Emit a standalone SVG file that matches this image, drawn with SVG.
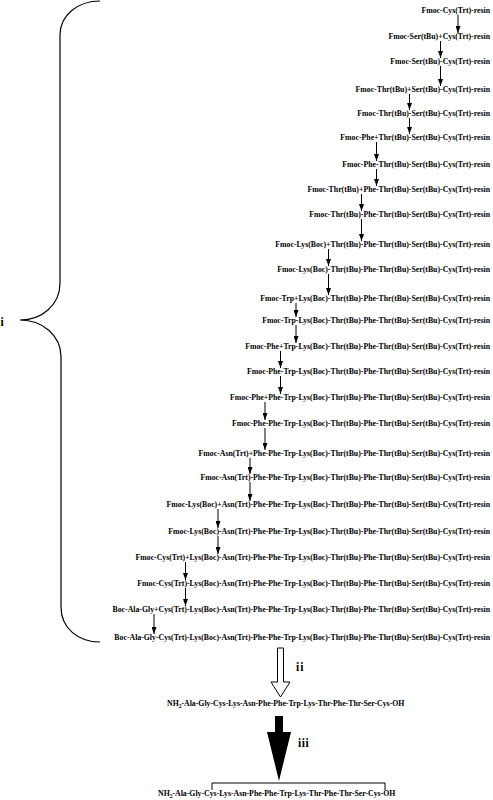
<svg xmlns="http://www.w3.org/2000/svg" width="493" height="800" viewBox="0 0 493 800">
<style>
.t{font-family:"Liberation Serif","Times New Roman",serif;font-weight:bold;font-size:7.8px;text-anchor:end;fill:#000}
.p{font-family:"Liberation Serif","Times New Roman",serif;font-weight:bold;font-size:7.8px;fill:#000}
.lb{font-family:"Liberation Serif","Times New Roman",serif;font-weight:bold;font-size:11.5px;fill:#000}
.a{stroke:#000;stroke-width:1;fill:none;marker-end:url(#ah)}
</style>
<defs>
<marker id="ah" markerUnits="userSpaceOnUse" markerWidth="7" markerHeight="5" viewBox="0 0 7 5" refX="7" refY="2.5" orient="auto">
<path d="M0,0 L7,2.5 L0,5 Z" fill="#000"/>
</marker>
</defs>
<g id="brace">
<path d="M100,1 C78,1 60,15 60,35 L60,283 C60,305 42,320 20,320 C42,320 61,335 61,357 L61,607 C61,628 78,642 100,642" fill="none" stroke="#000" stroke-width="1.2"/>
<text class="lb" x="0.5" y="326">i</text>
</g>
<g id="steps">
<text id="s1" class="t" x="490" y="13">Fmoc-Cys(Trt)-resin</text>
<text id="s2" class="t" x="490" y="39">Fmoc-Ser(tBu)+Cys(Trt)-resin</text>
<text id="s3" class="t" x="490" y="64">Fmoc-Ser(tBu)-Cys(Trt)-resin</text>
<text id="s4" class="t" x="490" y="92">Fmoc-Thr(tBu)+Ser(tBu)-Cys(Trt)-resin</text>
<text id="s5" class="t" x="490" y="116">Fmoc-Thr(tBu)-Ser(tBu)-Cys(Trt)-resin</text>
<text id="s6" class="t" x="490" y="140">Fmoc-Phe+Thr(tBu)-Ser(tBu)-Cys(Trt)-resin</text>
<text id="s7" class="t" x="490" y="167">Fmoc-Phe-Thr(tBu)-Ser(tBu)-Cys(Trt)-resin</text>
<text id="s8" class="t" x="490" y="192">Fmoc-Thr(tBu)+Phe-Thr(tBu)-Ser(tBu)-Cys(Trt)-resin</text>
<text id="s9" class="t" x="490" y="217">Fmoc-Thr(tBu)-Phe-Thr(tBu)-Ser(tBu)-Cys(Trt)-resin</text>
<text id="s10" class="t" x="490" y="247">Fmoc-Lys(Boc)+Thr(tBu)-Phe-Thr(tBu)-Ser(tBu)-Cys(Trt)-resin</text>
<text id="s11" class="t" x="490" y="272">Fmoc-Lys(Boc)-Thr(tBu)-Phe-Thr(tBu)-Ser(tBu)-Cys(Trt)-resin</text>
<text id="s12" class="t" x="490" y="301">Fmoc-Trp+Lys(Boc)-Thr(tBu)-Phe-Thr(tBu)-Ser(tBu)-Cys(Trt)-resin</text>
<text id="s13" class="t" x="490" y="323">Fmoc-Trp-Lys(Boc)-Thr(tBu)-Phe-Thr(tBu)-Ser(tBu)-Cys(Trt)-resin</text>
<text id="s14" class="t" x="490" y="349">Fmoc-Phe+Trp-Lys(Boc)-Thr(tBu)-Phe-Thr(tBu)-Ser(tBu)-Cys(Trt)-resin</text>
<text id="s15" class="t" x="490" y="374">Fmoc-Phe-Trp-Lys(Boc)-Thr(tBu)-Phe-Thr(tBu)-Ser(tBu)-Cys(Trt)-resin</text>
<text id="s16" class="t" x="490" y="400">Fmoc-Phe+Phe-Trp-Lys(Boc)-Thr(tBu)-Phe-Thr(tBu)-Ser(tBu)-Cys(Trt)-resin</text>
<text id="s17" class="t" x="490" y="426">Fmoc-Phe-Phe-Trp-Lys(Boc)-Thr(tBu)-Phe-Thr(tBu)-Ser(tBu)-Cys(Trt)-resin</text>
<text id="s18" class="t" x="490" y="456">Fmoc-Asn(Trt)+Phe-Phe-Trp-Lys(Boc)-Thr(tBu)-Phe-Thr(tBu)-Ser(tBu)-Cys(Trt)-resin</text>
<text id="s19" class="t" x="490" y="480">Fmoc-Asn(Trt)-Phe-Phe-Trp-Lys(Boc)-Thr(tBu)-Phe-Thr(tBu)-Ser(tBu)-Cys(Trt)-resin</text>
<text id="s20" class="t" x="490" y="507">Fmoc-Lys(Boc)+Asn(Trt)-Phe-Phe-Trp-Lys(Boc)-Thr(tBu)-Phe-Thr(tBu)-Ser(tBu)-Cys(Trt)-resin</text>
<text id="s21" class="t" x="490" y="534">Fmoc-Lys(Boc)-Asn(Trt)-Phe-Phe-Trp-Lys(Boc)-Thr(tBu)-Phe-Thr(tBu)-Ser(tBu)-Cys(Trt)-resin</text>
<text id="s22" class="t" x="490" y="560">Fmoc-Cys(Trt)+Lys(Boc)-Asn(Trt)-Phe-Phe-Trp-Lys(Boc)-Thr(tBu)-Phe-Thr(tBu)-Ser(tBu)-Cys(Trt)-resin</text>
<text id="s23" class="t" x="490" y="586">Fmoc-Cys(Trt)-Lys(Boc)-Asn(Trt)-Phe-Phe-Trp-Lys(Boc)-Thr(tBu)-Phe-Thr(tBu)-Ser(tBu)-Cys(Trt)-resin</text>
<text id="s24" class="t" x="490" y="612">Boc-Ala-Gly+Cys(Trt)-Lys(Boc)-Asn(Trt)-Phe-Phe-Trp-Lys(Boc)-Thr(tBu)-Phe-Thr(tBu)-Ser(tBu)-Cys(Trt)-resin</text>
<text id="s25" class="t" x="490" y="640">Boc-Ala-Gly-Cys(Trt)-Lys(Boc)-Asn(Trt)-Phe-Phe-Trp-Lys(Boc)-Thr(tBu)-Phe-Thr(tBu)-Ser(tBu)-Cys(Trt)-resin</text>
</g>
<g id="connectors">
<line class="a" x1="458" y1="15" x2="458" y2="33"/>
<line class="a" x1="440.5" y1="41" x2="440.5" y2="58"/>
<line class="a" x1="440.5" y1="66" x2="440.5" y2="86"/>
<line class="a" x1="409.5" y1="94" x2="409.5" y2="110"/>
<line class="a" x1="409.5" y1="118" x2="409.5" y2="134"/>
<line class="a" x1="376.5" y1="142" x2="376.5" y2="161"/>
<line class="a" x1="376.5" y1="169" x2="376.5" y2="186"/>
<line class="a" x1="361.5" y1="194" x2="361.5" y2="211"/>
<line class="a" x1="361.5" y1="219" x2="361.5" y2="241"/>
<line class="a" x1="328.5" y1="249" x2="328.5" y2="266"/>
<line class="a" x1="328.5" y1="274" x2="328.5" y2="295"/>
<line class="a" x1="296" y1="303" x2="296" y2="317"/>
<line class="a" x1="296" y1="325" x2="296" y2="343"/>
<line class="a" x1="280.5" y1="351" x2="280.5" y2="368"/>
<line class="a" x1="280.5" y1="376" x2="280.5" y2="394"/>
<line class="a" x1="265" y1="402" x2="265" y2="420"/>
<line class="a" x1="265" y1="428" x2="265" y2="450"/>
<line class="a" x1="250" y1="458" x2="250" y2="474"/>
<line class="a" x1="250" y1="482" x2="250" y2="501"/>
<line class="a" x1="218" y1="509" x2="218" y2="528"/>
<line class="a" x1="218" y1="536" x2="218" y2="554"/>
<line class="a" x1="185.5" y1="562" x2="185.5" y2="580"/>
<line class="a" x1="185.5" y1="588" x2="185.5" y2="606"/>
<line class="a" x1="154" y1="614" x2="154" y2="634"/>
<path id="arrow-ii" d="M277.5,648 H283.5 V682 H290 L280.5,697 L271,682 H277.5 Z" fill="#fff" stroke="#000" stroke-width="1"/>
<path id="arrow-iii" d="M275,716 H283 V732 H291 L279,781 L267,732 H275 Z" fill="#000"/>
</g>
<g id="labels">
<text class="lb" x="296" y="671" letter-spacing="1">ii</text>
<text class="lb" x="298" y="747" letter-spacing="0.5">iii</text>
</g>
<g id="peptide">
<text class="p" x="167" y="706">NH<tspan font-size="5.5px" dy="1.5">2</tspan><tspan dy="-1.5">-Ala-Gly-Cys-Lys-Asn-Phe-Phe-Trp-Lys-Thr-Phe-Thr-Ser-Cys-OH</tspan></text>
</g>
<g id="cyclic">
<path d="M212,790 V783 H385 V790" fill="none" stroke="#000" stroke-width="1"/>
<text class="p" x="158" y="796">NH<tspan font-size="5.5px" dy="1.5">2</tspan><tspan dy="-1.5">-Ala-Gly-Cys-Lys-Asn-Phe-Phe-Trp-Lys-Thr-Phe-Thr-Ser-Cys-OH</tspan></text>
</g>
</svg>
